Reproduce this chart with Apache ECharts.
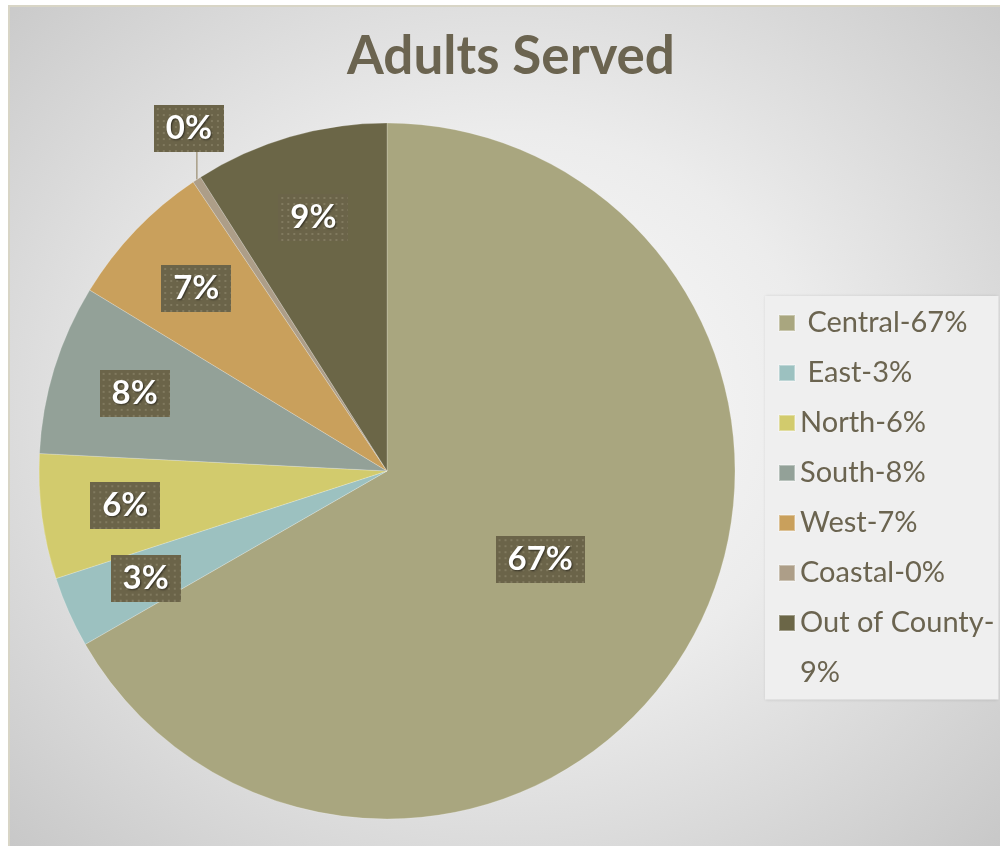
<!DOCTYPE html>
<html>
<head>
<meta charset="utf-8">
<script src="https://cdn.jsdelivr.net/npm/echarts@6/dist/echarts.min.js"></script>
<style>
  html, body { margin: 0; padding: 0; background: #ffffff; }
  #frame {
    position: absolute; left: 8px; top: 5px; width: 992px; height: 841px;
    box-sizing: border-box;
    border-left: 2px solid #d8d5c6; border-top: 2px solid #d8d5c6;
    background: radial-gradient(farthest-corner at 50% 48%, #fcfcfc 0%, #ececec 45%, #c8c8c8 100%);
  }
  #chart { position: absolute; left: 0; top: 0; width: 1000px; height: 846px; }
</style>
</head>
<body>
<div id="frame"></div>
<div id="chart"></div>
<script>
// Adults served by region (share of total, %)
const categories = [' Central', ' East', 'North', 'South', 'West', 'Coastal', 'Out of County'];
const shares = [66.7, 3.3, 5.8, 7.9, 6.9, 0.4, 9.0];
const sliceColors = ['#a9a67f', '#9cc1c0', '#d2cb6d', '#93a198', '#c9a05c', '#ad9e88', '#6b6647'];

const total = shares.reduce((a, b) => a + b, 0);
const pctOf = v => Math.round(v / total * 100);

// dotted fill used behind the data labels
function dottedTile(w, h) {
  const c = document.createElement('canvas');
  c.width = w; c.height = h;
  const g = c.getContext('2d');
  g.fillStyle = '#6b6449';
  g.fillRect(0, 0, w, h);
  g.fillStyle = '#817a5f';
  for (let y = 3; y < h; y += 6) {
    for (let x = 3; x < w; x += 6) g.fillRect(x, y, 2, 2);
  }
  return c;
}
const tileSmall = dottedTile(70, 47);
const tileWide = dottedTile(90, 47);

const labelBox = {
  color: '#ffffff',
  fontFamily: 'Lato',
  fontWeight: 'bold',
  fontSize: 33,
  lineHeight: 35,
  padding: [6, 12, 6, 12],
  textShadowColor: 'rgba(0,0,0,0.55)',
  textShadowBlur: 2,
  textShadowOffsetX: 1,
  textShadowOffsetY: 1,
  shadowColor: 'rgba(0,0,0,0.45)',
  shadowBlur: 6,
  shadowOffsetX: 3,
  shadowOffsetY: 4,
  formatter: p => pctOf(p.value) + '%'
};

const centralIdx = 0;
const coastalIdx = categories.indexOf('Coastal');

// main slices: the large slice is labelled at half radius, the tiny one outside
const mainData = categories.map((name, i) => {
  const item = { name, value: shares[i], itemStyle: { color: sliceColors[i] } };
  if (i === centralIdx) {
    item.label = Object.assign({}, labelBox, { show: true, position: 'inside', backgroundColor: { image: tileWide } });
  } else if (i === coastalIdx) {
    item.label = Object.assign({}, labelBox, { show: true, position: 'outside', backgroundColor: { image: tileSmall } });
    item.labelLine = { show: true, length: 10, length2: 0, lineStyle: { color: '#a89d86', width: 1.5 } };
  } else {
    item.label = { show: false };
  }
  return item;
});

// ring over the outer half carries the labels of the smaller slices
const ringData = categories.map((name, i) => {
  const show = i !== centralIdx && i !== coastalIdx;
  return {
    name, value: shares[i],
    label: show ? Object.assign({}, labelBox, { show: true, position: 'inside', backgroundColor: { image: tileSmall } }) : { show: false }
  };
});

const chart = echarts.init(document.getElementById('chart'), null, { renderer: 'canvas' });
chart.setOption({
  backgroundColor: 'transparent',
  animation: false,
  title: {
    text: 'Adults Served',
    left: 506,
    top: 25,
    textAlign: 'center',
    textStyle: { fontFamily: 'Lato', fontWeight: 'bold', fontSize: 53, color: '#6b6450' }
  },
  legend: {
    orient: 'vertical',
    left: 765,
    top: 296,
    itemWidth: 16,
    itemHeight: 16,
    itemGap: 0,
    icon: 'rect',
    backgroundColor: '#efefef',
    padding: [2, 4, 12, 13],
    shadowColor: 'rgba(0,0,0,0.12)',
    shadowBlur: 3,
    // the wrapped entry keeps a one-line box so its marker sits on the first line
    data: categories.map(name => name === 'Out of County'
      ? { name, textStyle: { padding: [0, 0, -50, 0], rich: { t: {} } } }
      : { name }),
    formatter: name => {
      const v = shares[categories.indexOf(name)];
      return name === 'Out of County'
        ? '{t|' + name + '-}\n{t|' + pctOf(v) + '%}'
        : name + '-' + pctOf(v) + '%';
    },
    textStyle: { fontFamily: 'Lato', fontSize: 29, color: '#6b6450', lineHeight: 50 }
  },
  series: [
    {
      type: 'pie',
      center: [387, 471],
      radius: [0, 348],
      startAngle: 90,
      clockwise: true,
      silent: true,
      avoidLabelOverlap: false,
      itemStyle: { borderWidth: 0.6, borderColor: 'rgba(255,255,255,0.35)' },
      data: mainData,
      labelLayout: params => {
        if (params.dataIndex !== coastalIdx || !params.labelLinePoints) return {};
        const p0 = params.labelLinePoints[0];
        return {
          x: p0[0] - 8,
          y: p0[1] - 51,
          align: 'center',
          verticalAlign: 'middle',
          labelLinePoints: [p0, [p0[0], p0[1] - 28]]
        };
      }
    },
    {
      type: 'pie',
      center: [387, 471],
      radius: [174, 348],
      startAngle: 90,
      clockwise: true,
      silent: true,
      avoidLabelOverlap: false,
      itemStyle: { color: 'rgba(0,0,0,0)' },
      labelLine: { show: false },
      data: ringData
    }
  ]
});
</script>
</body>
</html>
